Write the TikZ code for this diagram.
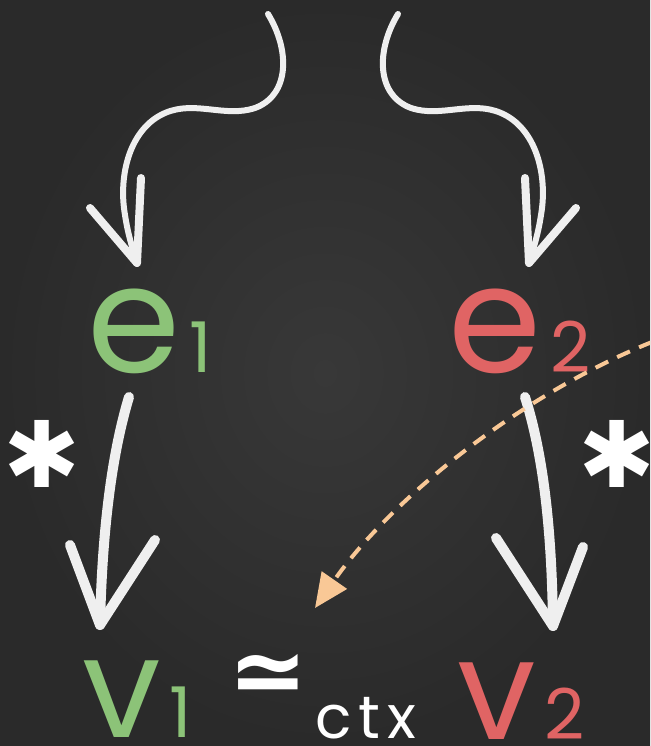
\documentclass[tikz,border=0pt]{standalone}
\usepackage{fontspec}
\setmainfont{Poppins}
\newfontfamily\symbolfont{DejaVu Sans}
\usetikzlibrary{arrows.meta, calc}
\definecolor{board}{HTML}{383838}
\definecolor{boardedge}{HTML}{2A2A2A}
\definecolor{chalkgreen}{HTML}{8CC378}
\definecolor{chalkred}{HTML}{E06464}
\definecolor{chalkpeach}{HTML}{F9C896}
\newcommand{\chalkidx}[1]{\hspace{9pt}{\fontsize{70}{70}\selectfont #1}}

\begin{document}
\begin{tikzpicture}[x=1pt, y=-1pt,
  term/.style={inner sep=0pt, anchor=base, font=\fontsize{150}{150}\selectfont},
  chalk/.style={white!92!board, line width=#1, line cap=round, line join=round},
  chalk/.default=7pt,
  hint/.style={chalkpeach, line width=4pt, dash pattern=on 14pt off 10pt,
               -{Triangle[length=34pt, width=30pt]}},
  star/.style={inner sep=0pt, text=white, font=\symbolfont\fontsize{92}{92}\selectfont},
]
  \useasboundingbox (0,0) rectangle (650,746);
  \clip (0,0) rectangle (650,746);
  % board
  \shade[inner color=board, outer color=boardedge] (0,0) rectangle (650,746);

  % terms
  \node[term, text=chalkgreen] (e1) at (150,372) {e\chalkidx{1}};
  \node[term, text=chalkred] (e2) at (520,372) {e\chalkidx{2}};
  \node[term, text=chalkgreen, font=\fontsize{140}{140}\selectfont] (v1) at (137,737) {v\chalkidx{1}};
  \node[term, text=chalkred, font=\fontsize{140}{140}\selectfont] (v2) at (521,739) {v\chalkidx{2}};
  \node[inner sep=0pt, text=white,
        font=\symbolfont\bfseries\fontsize{95}{95}\selectfont] (sim) at (268,679) {≃};
  \node[term, text=white, font=\fontsize{60}{60}\selectfont\addfontfeature{LetterSpace=12}]
    (ctx) at (366,738) {ctx};

  % stars beside the reductions
  \node[star] (star1) at (42,454) {✱};
  \node[star] (star2) at (617,454) {✱};

  % end points
  \coordinate (src1) at (268,14);
  \coordinate (src2) at (398,14);
  \coordinate (e1in) at ($(e1.base)+(-13,-109)$);
  \coordinate (e2in) at ($(e2.base)+(9,-109)$);
  \coordinate (e1out) at ($(e1.base)+(-21,25)$);
  \coordinate (e2out) at ($(e2.base)+(5,25)$);
  \coordinate (v1in) at ($(v1.base)+(-37,-112)$);
  \coordinate (v2in) at ($(v2.base)+(32,-113)$);
  \coordinate (hintsrc) at (652,342);
  \coordinate (simin) at ($(sim.center)+(47,-71)$);

  % wavy arrows into e1 and e2
  \draw[chalk=6pt] (src1) .. controls (290,50) and (290,95) .. (255,108)
    .. controls (225,118) and (195,100) .. (165,113)
    .. controls (130,128) and (118,175) .. (125,215)
    .. controls (128,235) and (133,250) .. (e1in);
  \draw[chalk=8pt] ($(e1in)+(-47,-55)$) -- (e1in) -- ($(e1in)+(4,-85)$);
  \draw[chalk=6pt] (src2) .. controls (376,50) and (376,95) .. (411,108)
    .. controls (441,118) and (471,100) .. (501,113)
    .. controls (536,128) and (548,175) .. (541,215)
    .. controls (538,235) and (533,250) .. (e2in);
  \draw[chalk=8pt] ($(e2in)+(47,-55)$) -- (e2in) -- ($(e2in)+(-4,-85)$);

  % reductions
  \draw[chalk=10pt] (e1out) .. controls (110,460) and (102,540) .. (v1in);
  \draw[chalk=10pt] ($(v1in)+(-30,-80)$) -- (v1in) -- ($(v1in)+(55,-85)$);
  \draw[chalk=10pt] (e2out) .. controls (545,460) and (552,540) .. (v2in);
  \draw[chalk=10pt] ($(v2in)+(-57,-88)$) -- (v2in) -- ($(v2in)+(30,-79)$);

  % dashed hint
  \draw[hint] (hintsrc) .. controls (520,395) and (390,500) .. (simin);
\end{tikzpicture}
\end{document}
